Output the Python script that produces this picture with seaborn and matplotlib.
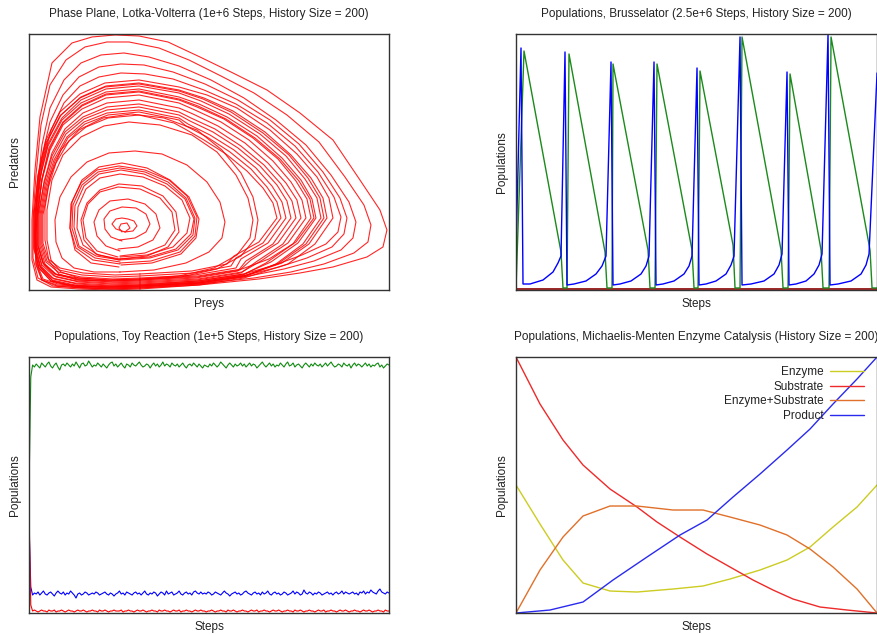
"""
Four stochastic simulation panels: Lotka-Volterra phase plane, Brusselator,
toy reaction and Michaelis-Menten enzyme catalysis.
Values are read off the reference picture (arbitrary population units).
"""

import numpy as np
import pandas as pd
import matplotlib
matplotlib.use("Agg")
import matplotlib.pyplot as plt
import seaborn as sns

# =========================
# Data: Lotka-Volterra orbits, one (prey, predators) list per orbit
# =========================
lv_orbits = [
    [(96, 58), (104, 59), (108, 64), (105, 69), (99, 71), (93, 72), (87, 71), (83, 66), (87, 61),
     (96, 58), (101, 62), (98, 67), (92, 66), (90, 62), (93, 58)],
    [(91, 50), (106, 52), (117, 58), (121, 66), (117, 76), (107, 82), (93, 83), (81, 79), (75, 71),
     (76, 61), (82, 53), (93, 49)],
    [(89, 41), (109, 43), (124, 50), (131, 62), (127, 76), (116, 86), (99, 91), (81, 89), (70, 80),
     (65, 68), (68, 54), (77, 44), (91, 39)],
    [(91, 34), (116, 37), (136, 45), (146, 60), (143, 78), (131, 92), (111, 101), (89, 103),
     (71, 98), (59, 86), (54, 70), (57, 52), (68, 39), (89, 33)],
    [(91, 31), (118, 34), (139, 43), (150, 58), (147, 78), (134, 94), (113, 104), (90, 106),
     (71, 100), (58, 87), (52, 70), (55, 50), (67, 36), (90, 30)],
    [(91, 30), (121, 32), (149, 40), (164, 55), (166, 72), (157, 92), (139, 108), (116, 118),
     (91, 122), (69, 118), (53, 105), (44, 85), (43, 62), (49, 43), (66, 32), (91, 28)],
    [(91, 33), (118, 35), (144, 43), (158, 57), (161, 72), (153, 90), (136, 104), (114, 113),
     (91, 116), (71, 112), (57, 101), (49, 83), (48, 62), (54, 45), (69, 35), (91, 31)],
    [(91, 27), (122, 29), (151, 38), (166, 54), (168, 73), (158, 94), (140, 110), (116, 120),
     (90, 124), (68, 120), (52, 107), (42, 86), (41, 62), (47, 42), (64, 30), (91, 26)],
    [(91, 31), (120, 33), (147, 41), (162, 56), (165, 71), (156, 91), (138, 106), (115, 116),
     (92, 120), (70, 116), (55, 104), (46, 84), (45, 63), (50, 44), (67, 34), (91, 30)],
    [(92, 25), (123, 27), (152, 36), (167, 52), (170, 71), (160, 93), (141, 110), (118, 122),
     (93, 127), (70, 123), (53, 110), (43, 88), (41, 62), (46, 40), (62, 27), (90, 23)],
    [(91, 18), (125, 20), (157, 27), (180, 38), (193, 52), (196, 68), (191, 88), (178, 108),
     (158, 125), (133, 136), (106, 139), (80, 137), (58, 128), (42, 113), (31, 93), (26, 70),
     (27, 48), (33, 32), (45, 22), (65, 18), (91, 18)],
    [(111, 11), (150, 14), (185, 22), (208, 35), (221, 52), (224, 70), (219, 92), (207, 115),
     (188, 138), (163, 155), (131, 165), (100, 168), (75, 164), (52, 153), (34, 135), (23, 110),
     (18, 80), (18, 50), (22, 30), (32, 18), (50, 12), (80, 10), (111, 11)],
    [(111, 10), (152, 13), (188, 21), (212, 34), (226, 51), (229, 70), (224, 93), (212, 117),
     (193, 140), (168, 160), (135, 172), (102, 176), (74, 172), (50, 160), (32, 140), (21, 113),
     (16, 82), (16, 50), (20, 29), (30, 16), (48, 10), (78, 9), (111, 10)],
    [(111, 16), (163, 19), (198, 26), (205, 34), (230, 48), (248, 72), (244, 87), (234, 102),
     (218, 119), (197, 136), (175, 150), (156, 161), (145, 167), (110, 175), (79, 172), (57, 163),
     (40, 149), (27, 127), (19, 102), (14, 75), (14, 47), (19, 31), (31, 22), (54, 17), (86, 15),
     (111, 16)],
    [(111, 14), (165, 17), (202, 24), (207, 32), (234, 47), (252, 72), (248, 88), (238, 103),
     (222, 121), (201, 138), (178, 153), (157, 164), (150, 170), (110, 178), (79, 175), (56, 166),
     (39, 152), (26, 129), (18, 103), (13, 75), (13, 46), (18, 29), (30, 20), (53, 15), (85, 13),
     (111, 14)],
    [(111, 12), (166, 15), (207, 22), (212, 31), (239, 47), (257, 72), (253, 88), (243, 104),
     (227, 122), (205, 140), (181, 155), (159, 166), (150, 172), (110, 180), (78, 177), (55, 168),
     (38, 153), (25, 130), (17, 104), (12, 75), (12, 45), (17, 28), (29, 18), (52, 13), (84, 11),
     (111, 12)],
    [(111, 9), (167, 12), (209, 19), (217, 29), (244, 46), (262, 72), (258, 89), (248, 105),
     (231, 124), (209, 142), (184, 158), (161, 169), (150, 175), (110, 183), (78, 180), (55, 171),
     (37, 156), (24, 132), (16, 105), (11, 75), (11, 44), (16, 26), (28, 15), (51, 10), (83, 8),
     (111, 9)],
    [(111, 10), (168, 13), (211, 20), (222, 30), (249, 47), (267, 72), (263, 89), (252, 106),
     (235, 125), (212, 144), (186, 161), (162, 172), (150, 178), (110, 186), (78, 183), (54, 173),
     (36, 158), (23, 134), (15, 106), (9, 75), (9, 44), (14, 27), (26, 16), (49, 11), (82, 9),
     (111, 10)],
    [(111, 7), (168, 10), (212, 17), (227, 28), (254, 46), (272, 72), (268, 90), (257, 107),
     (239, 127), (216, 147), (189, 164), (164, 176), (150, 182), (110, 190), (78, 187), (54, 177),
     (36, 161), (23, 137), (15, 108), (10, 75), (10, 43), (15, 25), (27, 13), (50, 8), (82, 6),
     (111, 7)],
    [(111, 8), (169, 11), (213, 18), (232, 29), (259, 47), (277, 72), (273, 90), (262, 108),
     (244, 129), (220, 150), (192, 168), (166, 180), (150, 187), (110, 195), (77, 192), (53, 181),
     (34, 165), (21, 140), (13, 110), (8, 75), (8, 43), (13, 25), (25, 14), (48, 9), (81, 7),
     (111, 8)],
    [(111, 5), (170, 8), (214, 15), (237, 27), (264, 46), (282, 72), (278, 91), (267, 109),
     (249, 131), (224, 152), (195, 171), (168, 183), (150, 190), (110, 198), (77, 195), (53, 184),
     (34, 167), (21, 142), (13, 111), (8, 75), (8, 42), (13, 23), (25, 11), (48, 6), (81, 4),
     (111, 5)],
    [(111, 11), (169, 14), (213, 21), (240, 31), (267, 48), (285, 72), (281, 91), (270, 109),
     (251, 131), (226, 152), (197, 171), (169, 184), (150, 191), (110, 199), (77, 196), (53, 185),
     (34, 168), (20, 142), (13, 111), (9, 75), (9, 44), (14, 27), (26, 16), (49, 12), (81, 10),
     (111, 11)],
    [(111, 6), (170, 9), (215, 16), (242, 28), (269, 47), (287, 72), (283, 91), (272, 110),
     (253, 132), (228, 154), (198, 173), (170, 186), (150, 193), (110, 201), (77, 198), (52, 187),
     (33, 170), (19, 144), (11, 112), (6, 75), (6, 42), (11, 24), (23, 12), (46, 7), (80, 5),
     (111, 6)],
    [(111, 3), (170, 6), (215, 13), (247, 26), (274, 46), (292, 72), (288, 92), (276, 111),
     (257, 134), (231, 156), (200, 176), (172, 189), (150, 197), (110, 204), (77, 201), (52, 190),
     (33, 172), (19, 146), (11, 113), (7, 75), (7, 42), (12, 22), (24, 9), (47, 4), (80, 2),
     (111, 3)],
    [(111, 4), (170, 7), (215, 14), (250, 27), (277, 46), (295, 72), (291, 92), (279, 112),
     (260, 135), (234, 157), (202, 178), (174, 191), (150, 199), (110, 206), (76, 203), (51, 192),
     (31, 174), (17, 147), (9, 114), (5, 75), (5, 41), (10, 22), (22, 9), (45, 4), (80, 3),
     (111, 4)],
    [(111, 4), (170, 7), (215, 14), (253, 27), (280, 46), (298, 72), (294, 92), (282, 112),
     (262, 135), (236, 158), (204, 179), (175, 192), (150, 200), (110, 207), (77, 204), (52, 193),
     (32, 175), (18, 148), (10, 114), (6, 75), (6, 42), (11, 23), (23, 10), (46, 5), (80, 3),
     (111, 4)],
    [(111, 2), (170, 5), (215, 12), (259, 26), (286, 46), (304, 72), (300, 92), (288, 113),
     (268, 136), (241, 160), (208, 182), (178, 195), (150, 203), (110, 210), (76, 207), (51, 196),
     (31, 178), (17, 150), (9, 115), (5, 75), (5, 42), (10, 22), (22, 9), (45, 3), (80, 1),
     (111, 2)],
    [(111, 5), (168, 9), (215, 16), (246, 25), (273, 35), (297, 46), (309, 58), (312, 73),
     (305, 93), (289, 118), (266, 144), (238, 167), (207, 186), (175, 200), (144, 211), (116, 216),
     (92, 217), (70, 213), (51, 204), (35, 187), (22, 160), (13, 125), (9, 88), (7, 55), (8, 26),
     (14, 11), (29, 6), (56, 4), (85, 4), (111, 5)],
    [(111, 4), (170, 8), (218, 15), (250, 23), (278, 32), (303, 43), (315, 56), (318, 72),
     (311, 92), (294, 118), (270, 146), (241, 170), (209, 190), (176, 206), (144, 218), (115, 225),
     (92, 226), (70, 223), (50, 213), (34, 195), (21, 168), (12, 130), (8, 90), (6, 55), (7, 25),
     (13, 10), (28, 5), (55, 3), (84, 3), (111, 4)],
    [(111, 3), (170, 7), (220, 14), (255, 21), (285, 29), (312, 40), (324, 52), (327, 68),
     (320, 88), (302, 115), (277, 145), (247, 170), (215, 192), (182, 210), (150, 224), (120, 233),
     (95, 237), (72, 235), (52, 227), (35, 210), (21, 182), (13, 145), (8, 100), (6, 60), (7, 27),
     (13, 10), (28, 4), (55, 2), (84, 2), (111, 3)],
    [(111, 2), (170, 6), (225, 12), (262, 18), (295, 26), (325, 37), (339, 48), (342, 65),
     (335, 85), (316, 113), (290, 148), (258, 175), (225, 197), (192, 214), (160, 230), (130, 242),
     (100, 248), (78, 248), (56, 243), (37, 230), (21, 205), (12, 165), (7, 115), (4, 70), (4, 32),
     (9, 12), (24, 4), (52, 2), (82, 1), (111, 2)],
    [(111, 1), (170, 5), (230, 11), (271, 17), (304, 23), (338, 33), (354, 43), (358, 60),
     (351, 80), (331, 110), (304, 150), (271, 177), (238, 200), (204, 217), (171, 233), (139, 248),
     (110, 254), (86, 255), (63, 253), (43, 247), (23, 227), (11, 173), (6, 120), (3, 70), (3, 30),
     (8, 10), (22, 3), (50, 1), (80, 0), (111, 1)],
]

# =========================
# Data: Brusselator (step position, population)
# =========================
bru_x_steps = [0, 5, 7, 14, 27, 37, 42, 45, 49, 51, 58, 70, 80, 86, 90, 95, 97, 104, 115, 125,
               130, 133, 138, 140, 147, 158, 168, 173, 176, 181, 183, 190, 200, 210, 215, 218,
               224, 226, 235, 248, 258, 263, 266, 271, 273, 280, 290, 298, 303, 306, 312, 314,
               322, 335, 345, 350, 353, 361]
bru_x_pop = [40, 242, 6, 6, 10, 18, 27, 34, 238, 5, 6, 9, 16, 24, 34, 228, 5, 6, 9, 16,
             24, 34, 228, 5, 6, 9, 16, 24, 34, 222, 5, 6, 9, 16, 25, 34,
             253, 5, 6, 9, 16, 25, 36, 218, 5, 6, 9, 16, 25, 36, 256, 5,
             6, 9, 16, 25, 36, 217]
bru_y_steps = [0, 8, 45, 47, 51, 53, 89, 91, 96, 97, 132, 134, 139, 141, 176, 178, 182, 184,
               217, 219, 224, 226, 265, 267, 272, 274, 305, 307, 313, 315, 354, 356, 361]
bru_y_pop = [2, 239, 38, 2, 2, 236, 38, 2, 2, 226, 40, 2, 2, 226, 40, 2, 2, 219,
             45, 2, 2, 253, 40, 2, 2, 216, 40, 2, 2, 253, 40, 2, 2]
bru_z_steps = [0, 90, 180, 270, 361]
bru_z_pop = [1, 1, 1, 1, 1]

# =========================
# Data: toy reaction (one value per stored sample, 200 samples)
# =========================
toy_green = [
    120, 236, 248, 246, 249, 247, 245, 250, 248, 246, 249, 251, 247, 245, 248, 250, 246, 243, 248, 249,
    247, 250, 248, 246, 249, 247, 251, 248, 245, 249, 250, 247, 248, 252, 249, 246, 248, 247, 250, 248,
    246, 249, 247, 245, 248, 250, 251, 247, 249, 246, 248, 250, 247, 245, 249, 248, 246, 250, 248, 247,
    249, 251, 248, 246, 247, 249, 248, 245, 248, 250, 247, 249, 246, 248, 251, 247, 249, 248, 246, 250,
    248, 247, 249, 246, 248, 250, 247, 245, 248, 249, 247, 250, 248, 246, 249, 247, 245, 248, 247, 246,
    249, 247, 250, 248, 246, 248, 251, 249, 247, 245, 248, 250, 248, 246, 249, 247, 248, 250, 247, 249,
    246, 248, 250, 247, 249, 248, 245, 247, 249, 251, 248, 246, 248, 250, 247, 249, 246, 248, 247, 250,
    248, 246, 249, 251, 247, 248, 250, 246, 248, 249, 247, 245, 248, 250, 248, 246, 249, 247, 250, 248,
    247, 249, 246, 248, 250, 247, 249, 251, 248, 246, 247, 249, 248, 246, 250, 248, 247, 249, 245, 248,
    250, 247, 249, 248, 246, 248, 250, 247, 249, 246, 248, 247, 249, 250, 246, 248, 245, 247, 249, 248,
]
toy_blue = [
    90, 26, 18, 20, 19, 21, 18, 20, 22, 19, 18, 20, 21, 19, 17, 20, 22, 20, 19, 21,
    18, 20, 19, 22, 20, 18, 15, 19, 20, 18, 19, 21, 20, 18, 19, 20, 19, 21, 20, 18,
    19, 20, 21, 19, 18, 20, 19, 17, 19, 20, 22, 19, 20, 18, 21, 20, 19, 18, 20, 21,
    19, 20, 18, 20, 22, 19, 18, 20, 19, 21, 20, 17, 19, 21, 20, 18, 22, 19, 20, 21,
    18, 19, 20, 22, 19, 18, 20, 21, 19, 20, 18, 21, 22, 20, 19, 21, 19, 20, 19, 21,
    20, 18, 19, 21, 20, 19, 18, 20, 22, 20, 19, 17, 19, 20, 21, 19, 20, 18, 19, 21,
    22, 20, 19, 18, 20, 21, 19, 20, 18, 21, 19, 20, 22, 19, 18, 20, 21, 19, 20, 18,
    19, 21, 20, 18, 19, 20, 22, 19, 21, 20, 18, 19, 23, 20, 19, 21, 20, 18, 20, 19,
    21, 20, 18, 19, 20, 21, 19, 20, 18, 20, 21, 19, 20, 22, 19, 21, 20, 19, 20, 21,
    19, 20, 18, 21, 20, 22, 19, 21, 20, 23, 21, 20, 19, 22, 24, 21, 20, 19, 21, 20,
]
toy_red = [
    105, 8, 2, 3, 2, 1, 2, 3, 2, 2, 1, 3, 2, 2, 3, 1, 2, 2, 3, 2,
    1, 2, 3, 2, 2, 1, 2, 3, 2, 2, 3, 2, 1, 2, 2, 3, 2, 2, 1, 3,
    2, 2, 3, 2, 1, 2, 2, 3, 2, 2, 2, 3, 1, 2, 2, 3, 2, 2, 1, 2,
    3, 2, 2, 3, 2, 1, 2, 2, 3, 2, 2, 1, 3, 2, 2, 3, 2, 2, 1, 2,
    3, 2, 2, 3, 1, 2, 2, 3, 2, 2, 1, 2, 3, 2, 2, 3, 2, 2, 1, 2,
    2, 3, 2, 1, 2, 2, 3, 2, 2, 1, 3, 2, 2, 3, 2, 1, 2, 2, 3, 2,
    2, 1, 2, 3, 2, 2, 3, 1, 2, 2, 3, 2, 2, 1, 2, 3, 2, 2, 3, 2,
    1, 2, 2, 3, 2, 2, 1, 3, 2, 2, 3, 2, 1, 2, 2, 3, 2, 2, 1, 2,
    3, 2, 2, 3, 1, 2, 2, 3, 2, 2, 1, 2, 3, 2, 2, 3, 2, 1, 2, 2,
    3, 2, 2, 1, 2, 3, 2, 2, 3, 2, 1, 2, 2, 3, 2, 2, 1, 3, 2, 2,
]

# =========================
# Data: Michaelis-Menten
# =========================
mm_sub_steps = [0, 24, 47, 67, 94, 121, 141, 164, 191, 214, 237, 257, 277, 304, 331, 361]
mm_substrate = [256, 209, 173, 148, 124, 106, 91, 76, 59, 46, 33, 23, 14, 6, 3, 0]
mm_steps = [0, 24, 47, 67, 94, 121, 157, 187, 214, 244, 271, 294, 317, 341, 361]
mm_enzyme = [128, 89, 53, 30, 22, 21, 24, 27, 34, 43, 53, 66, 86, 106, 128]
mm_complex = [0, 43, 76, 97, 107, 107, 103, 103, 96, 88, 78, 64, 46, 24, 0]
mm_prod_steps = [0, 34, 67, 97, 131, 164, 191, 217, 244, 271, 294, 317, 341, 361]
mm_product = [0, 3, 11, 33, 56, 78, 93, 116, 139, 163, 184, 209, 234, 256]

# =========================
# Style
# =========================
sns.set_theme(style="white")
plt.rcParams["font.family"] = ["Liberation Sans", "DejaVu Sans"]
FS = 8.5
TXT = "#222222"

fig = plt.figure(figsize=(8.78, 6.34), dpi=100)
pos = {
    "lv": [0.0330, 0.5426, 0.4100, 0.4038],
    "bru": [0.5877, 0.5426, 0.4112, 0.4038],
    "toy": [0.0330, 0.0331, 0.4100, 0.4038],
    "mm": [0.5877, 0.0331, 0.4112, 0.4038],
}
axes = {k: fig.add_axes(v) for k, v in pos.items()}


def style_axes(ax, title, xlabel, ylabel):
    ax.set_xticks([])
    ax.set_yticks([])
    ax.set_title(title, fontsize=FS, color=TXT, pad=12)
    ax.set_xlabel(xlabel, fontsize=FS, color=TXT, labelpad=6)
    ax.set_ylabel(ylabel, fontsize=FS, color=TXT, labelpad=5.5)
    for sp in ax.spines.values():
        sp.set_color("#333333")
        sp.set_linewidth(1.0)
        sp.set_visible(True)


# Lotka-Volterra phase plane, one line per orbit
ax = axes["lv"]
lv_df = pd.DataFrame(
    [(k, p, q) for k, orbit in enumerate(lv_orbits) for p, q in orbit],
    columns=["orbit", "prey", "pred"],
)
sns.lineplot(data=lv_df, x="prey", y="pred", units="orbit", sort=False, estimator=None,
             color="#ff0000", linewidth=0.8, alpha=0.85, ax=ax)
ax.set_xlim(0, 360)
ax.set_ylim(0, 256)
style_axes(ax, "Phase Plane, Lotka-Volterra (1e+6 Steps, History Size = 200)",
           "Preys", "Predators")

# Brusselator
ax = axes["bru"]
sns.lineplot(x=bru_z_steps, y=bru_z_pop, estimator=None, color="#8b0000", linewidth=1.2, ax=ax)
sns.lineplot(x=bru_y_steps, y=bru_y_pop, sort=False, estimator=None, color="#1a8a1a",
             linewidth=1.0, ax=ax)
sns.lineplot(x=bru_x_steps, y=bru_x_pop, sort=False, estimator=None, color="#0000ff",
             linewidth=1.0, ax=ax)
ax.set_xlim(0, 361)
ax.set_ylim(0, 256)
style_axes(ax, "Populations, Brusselator (2.5e+6 Steps, History Size = 200)",
           "Steps", "Populations")

# Toy reaction
ax = axes["toy"]
idx = np.arange(len(toy_green))
sns.lineplot(x=idx, y=toy_green, estimator=None, color="#108a10", linewidth=0.8, ax=ax)
sns.lineplot(x=idx, y=toy_blue, estimator=None, color="#0000ff", linewidth=0.8, ax=ax)
sns.lineplot(x=idx, y=toy_red, estimator=None, color="#ff0000", linewidth=0.8, ax=ax)
ax.set_xlim(0, len(toy_green) - 1)
ax.set_ylim(0, 256)
style_axes(ax, "Populations, Toy Reaction (1e+5 Steps, History Size = 200)",
           "Steps", "Populations")

# Michaelis-Menten
ax = axes["mm"]
sns.lineplot(x=mm_steps, y=mm_enzyme, estimator=None, color="#cccc22", linewidth=1.0,
             label="Enzyme", ax=ax)
sns.lineplot(x=mm_sub_steps, y=mm_substrate, estimator=None, color="#ee2a2a", linewidth=1.0,
             label="Substrate", ax=ax)
sns.lineplot(x=mm_steps, y=mm_complex, estimator=None, color="#e0702a", linewidth=1.0,
             label="Enzyme+Substrate", ax=ax)
sns.lineplot(x=mm_prod_steps, y=mm_product, estimator=None, color="#2a2aee", linewidth=1.0,
             label="Product", ax=ax)
ax.set_xlim(0, 361)
ax.set_ylim(0, 256)
style_axes(ax, "Populations, Michaelis-Menten Enzyme Catalysis (History Size = 200)",
           "Steps", "Populations")
leg = ax.legend(loc="upper right", bbox_to_anchor=(0.964, 0.964), frameon=False, fontsize=FS,
                markerfirst=False, handlelength=2.9, handletextpad=0.5, labelspacing=0.22,
                borderaxespad=0, borderpad=0)
for t in leg.get_texts():
    t.set_color(TXT)
    t.set_ha("right")

fig.savefig("out.png", dpi=100)
